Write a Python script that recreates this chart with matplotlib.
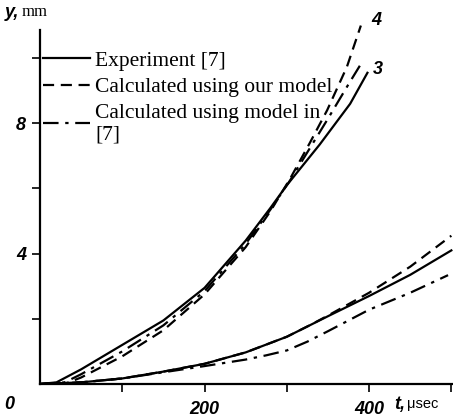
import numpy as np
import matplotlib.pyplot as plt

# upper group (curves 3 and 4)
t_exp_up = [0, 20, 50, 100, 150, 200, 250, 280, 300, 340, 377, 398]
y_exp_up = [0, 0.05, 0.45, 1.2, 1.95, 2.95, 4.4, 5.4, 6.1, 7.35, 8.6, 9.55]
t_our_up = [0, 30, 50, 100, 150, 200, 250, 280, 304, 328, 349, 373, 390]
y_our_up = [0, 0.0, 0.2, 0.85, 1.65, 2.75, 4.2, 5.3, 6.3, 7.4, 8.4, 9.73, 11.0]
t_ref_up = [0, 30, 50, 100, 150, 200, 250, 280, 304, 349, 375, 392]
y_ref_up = [0, 0.05, 0.3, 1.0, 1.8, 2.85, 4.3, 5.35, 6.25, 8.1, 9.2, 9.9]

# lower group
t_exp_lo = [0, 50, 100, 150, 200, 250, 300, 350, 400, 450, 500]
y_exp_lo = [0, 0.05, 0.17, 0.38, 0.62, 0.97, 1.45, 2.08, 2.7, 3.35, 4.1]
t_our_lo = [0, 50, 100, 150, 200, 250, 300, 330, 350, 400, 450, 500]
y_our_lo = [0, 0.05, 0.17, 0.38, 0.62, 0.97, 1.45, 1.83, 2.1, 2.8, 3.6, 4.55]
t_ref_lo = [0, 50, 100, 150, 200, 225, 250, 275, 300, 325, 350, 400, 450, 496]
y_ref_lo = [0, 0.05, 0.17, 0.36, 0.55, 0.65, 0.75, 0.88, 1.03, 1.3, 1.62, 2.28, 2.8, 3.34]

x_ticks = [100, 200, 300, 400, 500]
x_labels = ['', '200', '', '400', '']
y_ticks = [2, 4, 6, 8, 10]
y_labels = ['', '4', '', '8', '']

fig = plt.figure(figsize=(4.53, 4.18), dpi=100)
ax = fig.add_axes([40 / 453, 34 / 418, 413 / 453, 378 / 418])

dash = (0, (5, 3))
dashdot = (0, (7, 3, 1.5, 3))
lw = 1.6
ax.plot(t_exp_up, y_exp_up, color='black', lw=lw, label='Experiment [7]')
ax.plot(t_our_up, y_our_up, color='black', lw=lw, linestyle=dash,
        label='Calculated using our model')
ax.plot(t_ref_up, y_ref_up, color='black', lw=lw, linestyle=dashdot,
        label='Calculated using model in\n[7]')
ax.plot(t_exp_lo, y_exp_lo, color='black', lw=lw)
ax.plot(t_our_lo, y_our_lo, color='black', lw=lw, linestyle=dash)
ax.plot(t_ref_lo, y_ref_lo, color='black', lw=lw, linestyle=dashdot)

ax.set_xlim(0, 502)
ax.set_ylim(0, 11.6)
for s in ['top', 'right']:
    ax.spines[s].set_visible(False)
ax.spines['left'].set_bounds(0, 10.85)
ax.spines['left'].set_linewidth(1.6)
ax.spines['bottom'].set_linewidth(1.6)

num_font = dict(family='Liberation Sans', style='italic', weight='bold', size=13)
ax.set_xticks(x_ticks)
ax.set_xticklabels(x_labels, **num_font)
ax.set_yticks(y_ticks)
ax.set_yticklabels(y_labels, **num_font)
ax.tick_params(direction='out', length=6, width=1.2)
ax.tick_params(axis='x', pad=6)
ax.tick_params(axis='y', pad=4)

ax.text(-0.075, -0.055, '0', transform=ax.transAxes, ha='center', va='center', **num_font)
ax.text(431, -0.62, 't,', ha='left', va='center', **num_font)
ax.text(446, -0.62, 'μsec', ha='left', va='center', family='Liberation Sans', size=10.5)
ax.text(-0.085, 0.984, 'y,', transform=ax.transAxes, ha='left', va='center', **num_font)
ax.text(-0.045, 0.984, 'mm', transform=ax.transAxes, ha='left', va='center',
        family='Liberation Serif', size=12)

ax.text(403, 11.15, '4', ha='left', va='center', **num_font)
ax.text(405, 9.65, '3', ha='left', va='center', **num_font)

ax.legend(loc='upper left', bbox_to_anchor=(-0.03, 0.922), frameon=False,
          prop=dict(family='Liberation Serif', size=15.5), handlelength=2.2,
          handletextpad=0.25, labelspacing=0.3, borderpad=0.2)

fig.savefig('out.png', dpi=100)
